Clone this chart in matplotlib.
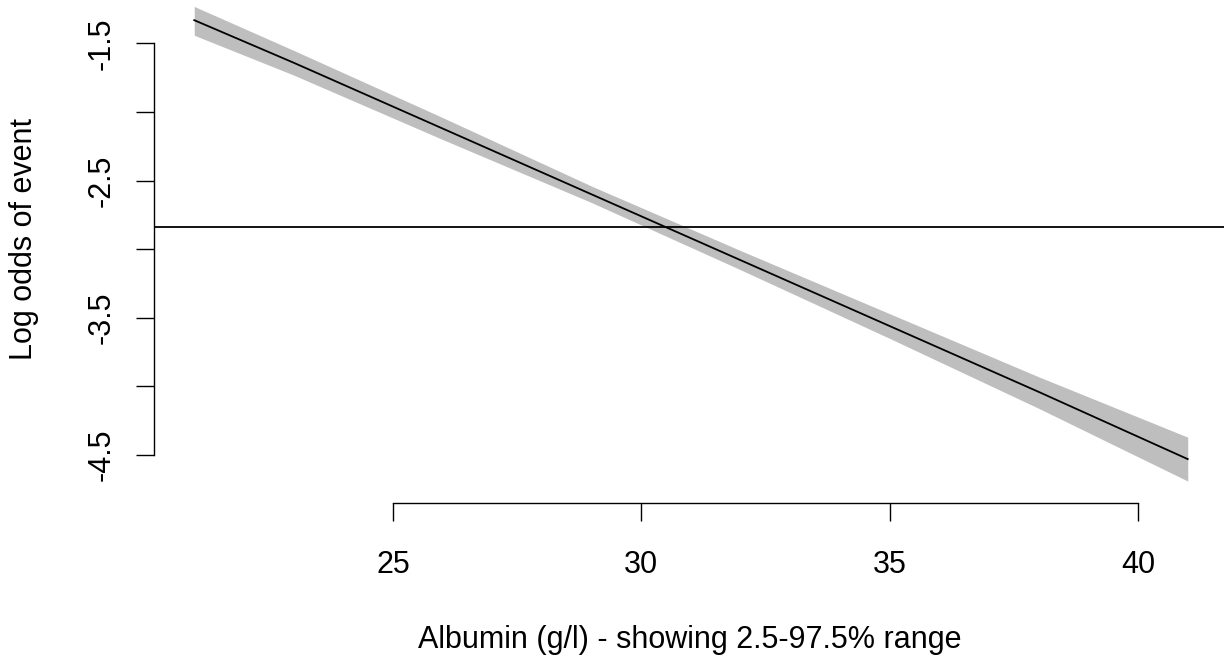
'''log odds of event vs albumin, with confidence band'''
import matplotlib
matplotlib.use('Agg')
import matplotlib.pyplot as plt
import numpy as np
from matplotlib import rcParams
params = {'font.family': ['Liberation Sans', 'DejaVu Sans'], 'font.size': 22}
rcParams.update(params)

# values
albumin = [21, 23, 26, 29, 32, 35, 38, 41]
fit = [-1.33, -1.64, -2.12, -2.60, -3.08, -3.56, -4.04, -4.53]
upper = [-1.23, -1.55, -2.04, -2.54, -3.01, -3.47, -3.93, -4.37]
lower = [-1.44, -1.73, -2.20, -2.66, -3.15, -3.65, -4.16, -4.69]
ref_level = -2.838

xticks = [25, 30, 35, 40]
yticks = [-1.5, -2.0, -2.5, -3.0, -3.5, -4.0, -4.5]
ylabs = ['-1.5', '', '-2.5', '', '-3.5', '', '-4.5']

W, H = 1224, 663
fig = plt.figure(figsize=(W / 100, H / 100), dpi=100)
# plot region in pixels: left 154, right 1224, top 0, bottom 503
ax = fig.add_axes([154 / W, (H - 503) / H, (W - 154) / W, 503 / H])

ax.fill_between(albumin, lower, upper, color='#BEBEBE', lw=0)
ax.plot(albumin, fit, color='black', lw=1.3)
ax.axhline(ref_level, color='black', lw=1.3)

ax.set_xlim(20.19, 41.73)
ax.set_ylim(-4.850, -1.183)

for s in ['top', 'right']:
    ax.spines[s].set_visible(False)
ax.spines['left'].set_bounds(-4.5, -1.5)
ax.spines['bottom'].set_bounds(25, 40)
for s in ['left', 'bottom']:
    ax.spines[s].set_linewidth(1.0)

ax.set_xticks(xticks)
ax.set_xticklabels([str(v) for v in xticks])
ax.set_yticks(yticks)
ax.set_yticklabels(ylabs, rotation=90, va='center')
ax.tick_params(axis='x', length=13, width=1.0, pad=21)
ax.tick_params(axis='y', length=13, width=1.0, pad=14)

ax.set_xlabel('Albumin (g/l) - showing 2.5-97.5% range')
ax.xaxis.label.set(va='center', ha='center')
ax.xaxis.set_label_coords(690 / W, (H - 640) / H, transform=fig.transFigure)

ax.set_ylabel('Log odds of event')
ax.yaxis.label.set(va='center', ha='center', rotation_mode='default')
ax.yaxis.set_label_coords(24 / W, (H - 239) / H, transform=fig.transFigure)

plt.savefig('out.png', dpi=100)
